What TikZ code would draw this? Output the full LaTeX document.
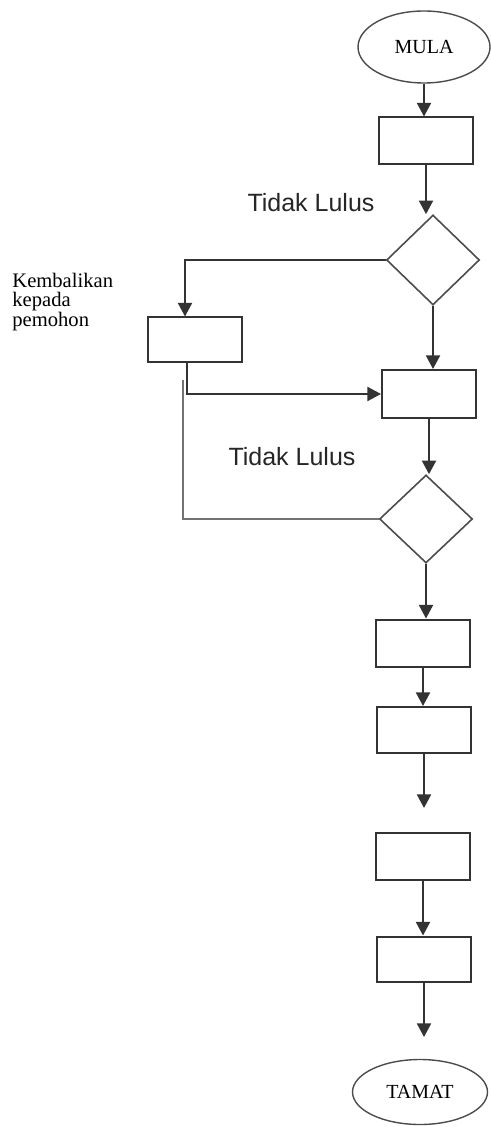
\documentclass[tikz,border=0pt]{standalone}
\usepackage{fontspec}
\setmainfont{Liberation Serif}
\newfontfamily\arialfont{Liberation Sans}
\usetikzlibrary{positioning,arrows.meta,shapes.geometric}

\begin{document}
\begin{tikzpicture}[x=0.5pt, y=-0.5pt,
    every node/.style={font=\fontsize{10}{12}\selectfont},
    box/.style={draw=black!80, line width=1pt, minimum width=47pt,
                minimum height=23.5pt, inner sep=0pt},
    term/.style={ellipse, draw=black!70, line width=0.7pt, inner sep=0pt},
    dec/.style={diamond, draw=black!70, line width=0.8pt, inner sep=0pt,
                minimum width=46.5pt, minimum height=45pt},
    arr/.style={-{Triangle[length=6.8pt,width=7pt]}, line width=1pt, draw=black!80},
    back/.style={line width=0.6pt, draw=black!55},
    lbl/.style={font=\arialfont\fontsize{12.5}{15}\selectfont, text=black!85},
]
\useasboundingbox (0,0) rectangle (491,1127);
% Main column
\node[term, minimum width=66pt, minimum height=36pt] (mula) at (424,47) {MULA};
\node[box] (semak) at (426,141) {};
\node[dec] (lulus1) at (433,260) {};
\node[box, minimum height=22.5pt] (pulang) at (195,340) {};
\node[box, minimum height=24pt] (proses) at (429,394) {};
\node[dec, minimum height=44pt] (lulus2) at (426,519) {};
\node[box] (langkah1) at (423,643) {};
\node[box, minimum height=23pt] (langkah2) at (424,730) {};
\node[box] (langkah3) at (423,856) {};
\node[box, minimum height=22.5pt] (langkah4) at (424,959) {};
\node[term, minimum width=67.5pt, minimum height=32.5pt] (tamat) at (420,1092) {TAMAT};
% Free ends
\coordinate (gap1) at (424,808);
\coordinate (gap2) at (424,1037);
\coordinate (balik) at (183,380);
% Labels
\node[lbl] (tl1) at (311,203) {Tidak Lulus};
\node[lbl] (tl2) at (292,457) {Tidak Lulus};
\node[align=left, anchor=north west, inner sep=0pt,
      font=\fontsize{10.3}{9.6}\selectfont] (ket) at (12,273) {Kembalikan\\kepada\\pemohon};
% Arrows
\draw[arr] (mula.south) -- (mula.south |- semak.north);
\draw[arr] (semak.south) -- (semak.south |- lulus1.north);
\draw[arr] (lulus1.west) -| ([xshift=-5pt]pulang.north);
\draw[arr] (lulus1.south) -- (lulus1.south |- proses.north);
\draw[arr] ([xshift=-4pt]pulang.south) |- (proses.west);
\draw[back] (lulus2.west) -| (balik);
\draw[arr] (proses.south) -- (proses.south |- lulus2.north);
\draw[arr] (lulus2.south) -- (lulus2.south |- langkah1.north);
\draw[arr] (langkah1.south) -- (langkah1.south |- langkah2.north);
\draw[arr] (langkah2.south) -- (langkah2.south |- gap1);
\draw[arr] (langkah3.south) -- (langkah3.south |- langkah4.north);
\draw[arr] (langkah4.south) -- (langkah4.south |- gap2);
\end{tikzpicture}
\end{document}
